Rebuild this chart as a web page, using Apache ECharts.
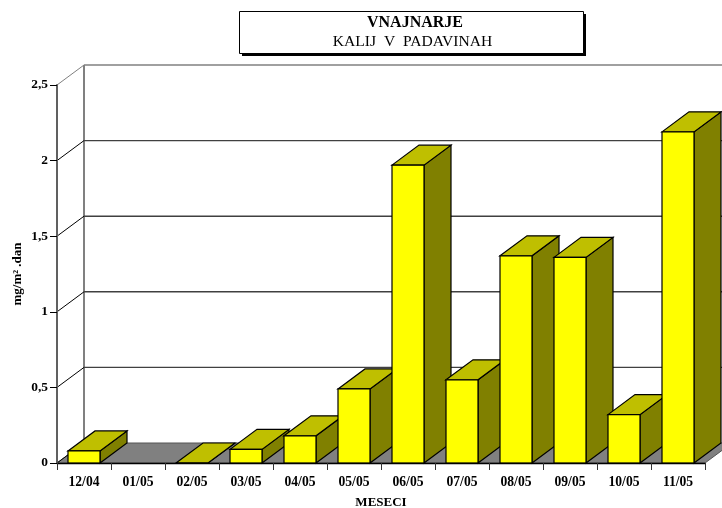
<!DOCTYPE html>
<html><head><meta charset="utf-8">
<style>html,body{margin:0;padding:0;background:#fff}#c{width:722px;height:508px}</style>
<script src="https://cdn.jsdelivr.net/npm/echarts@6/dist/echarts.min.js"></script>
</head><body><div id="c"></div>
<script>
const categories = ['12/04','01/05','02/05','03/05','04/05','05/05','06/05','07/05','08/05','09/05','10/05','11/05'];
const values = [0.08, null, 0, 0.09, 0.18, 0.49, 1.97, 0.55, 1.37, 1.36, 0.32, 2.19];
const yTicks = [0, 0.5, 1, 1.5, 2, 2.5];
const titleText = 'VNAJNARJE';
const subtitleText = 'KALIJ  V  PADAVINAH';
const yName = 'mg/m² .dan';
const xName = 'MESECI';

const FONT = '"Liberation Serif","Times New Roman",serif';
const DX = 27, DY = -20;

const chart = echarts.init(document.getElementById('c'), null, {renderer:'canvas'});

function renderWalls(params, api) {
  const cs = params.coordSys;
  const x0 = cs.x, x1 = cs.x + cs.width, y0 = cs.y + cs.height, yTop = cs.y;
  const kids = [];
  kids.push({type:'polygon', shape:{points:[[x0,y0],[x0+DX,y0+DY],[x1+DX,y0+DY],[x1,y0]]},
    style:{fill:'#808080', stroke:'#555555', lineWidth:1}});
  kids.push({type:'line', shape:{x1:x0+DX,y1:y0+DY,x2:x0+DX,y2:yTop+DY}, style:{stroke:'#808080',lineWidth:2}});
  yTicks.forEach(t => {
    const y = api.coord([0,t])[1];
    const top = t === yTicks[yTicks.length-1];
    kids.push({type:'line', shape:{x1:x0,y1:y,x2:x0+DX,y2:y+DY}, style:{stroke: top ? '#808080':'#000',lineWidth:1}});
    if (t !== 0) kids.push({type:'line', shape:{x1:x0+DX,y1:y+DY,x2:x1+DX,y2:y+DY}, style:{stroke: top ? '#808080':'#404040',lineWidth:1.4}});
  });
  return {type:'group', children:kids};
}

function renderBar(params, api) {
  const v = api.value(1);
  if (isNaN(v)) return null;
  const c = api.coord([api.value(0), v]);
  const b = api.coord([api.value(0), 0]);
  const w = 32;
  const l = c[0]-w/2, r = c[0]+w/2, t = c[1], bot = b[1];
  const st = f => ({fill:f, stroke:'#000', lineWidth:1.2, lineJoin:'miter'});
  return {type:'group', children:[
    {type:'polygon', shape:{points:[[r,t],[r+DX,t+DY],[r+DX,bot+DY],[r,bot]]}, style:st('#808000')},
    {type:'polygon', shape:{points:[[l,t],[l+DX,t+DY],[r+DX,t+DY],[r,t]]}, style:st('#BFBF00')},
    {type:'rect', shape:{x:l,y:t,width:w,height:bot-t}, style:st('#FFFF00')}
  ]};
}

chart.setOption({
  animation:false,
  backgroundColor:'#fff',
  title:[
    {text:titleText, left:415, top:14, textAlign:'center', padding:0,
     textStyle:{fontFamily:FONT,fontWeight:'bold',fontSize:16,color:'#000',lineHeight:18}},
    {text:subtitleText, left:412.5, top:33, textAlign:'center', padding:0,
     textStyle:{fontFamily:FONT,fontWeight:'normal',fontSize:15.6,color:'#000',lineHeight:18}}
  ],
  graphic:[
    {type:'rect', z:-2, shape:{x:242,y:14,width:344,height:42}, style:{fill:'#000'}},
    {type:'rect', z:-1, shape:{x:239.5,y:11.5,width:344,height:42}, style:{fill:'#fff',stroke:'#000',lineWidth:1}}
  ],
  grid:{left:57,top:85,width:648,height:378,containLabel:false,outerBoundsMode:'none'},
  xAxis:{
    type:'category', data:categories, z:5,
    name:xName, nameLocation:'middle', nameGap:33, nameMoveOverlap:false,
    nameTextStyle:{fontFamily:FONT,fontWeight:'bold',fontSize:13,color:'#000'},
    axisLine:{lineStyle:{color:'#000',width:1.4}},
    axisTick:{show:true,length:7,lineStyle:{color:'#333',width:1}},
    axisLabel:{fontFamily:FONT,fontWeight:'bold',fontSize:13.6,color:'#000',margin:12,interval:0}
  },
  yAxis:{
    type:'value', min:0, max:2.5, interval:0.5, z:5,
    name:yName, nameLocation:'middle', nameGap:33, nameRotate:90, nameMoveOverlap:false,
    nameTextStyle:{fontFamily:FONT,fontWeight:'bold',fontSize:13,color:'#000'},
    axisLine:{show:true,lineStyle:{color:'#606060',width:2}},
    axisTick:{show:true,length:7,lineStyle:{color:'#000',width:1}},
    splitLine:{show:false},
    axisLabel:{fontFamily:FONT,fontWeight:'bold',fontSize:13.4,color:'#000',margin:9,
      formatter:v=>String(v).replace('.',',')}
  },
  series:[
    {type:'custom', z:1, silent:true, data:[[0,0]], encode:{x:0,y:1}, renderItem:renderWalls, clip:false},
    {type:'custom', z:2, silent:true, data:values.map((v,i)=>[i,v===null?'-':v]), encode:{x:0,y:1}, renderItem:renderBar, clip:false}
  ]
});
</script></body></html>
